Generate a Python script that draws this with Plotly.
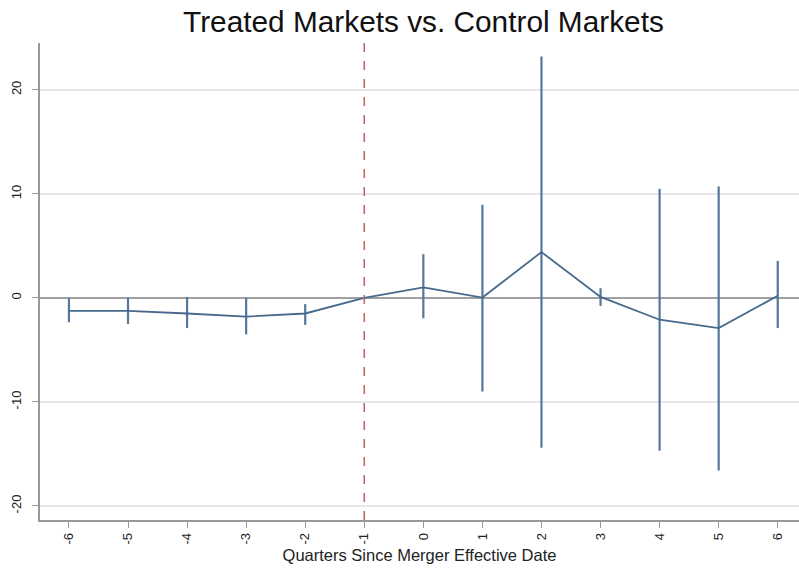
import plotly.graph_objects as go

quarters = [-6, -5, -4, -3, -2, -1, 0, 1, 2, 3, 4, 5, 6]
coef = [-1.25, -1.25, -1.5, -1.8, -1.5, 0.0, 1.0, 0.03, 4.4, 0.1, -2.1, -2.9, 0.2]
ci_upper = [0.0, 0.0, 0.1, 0.0, -0.6, 0.0, 4.2, 8.95, 23.2, 0.93, 10.5, 10.7, 3.56]
ci_lower = [-2.35, -2.5, -2.9, -3.5, -2.6, 0.0, -1.95, -9.0, -14.4, -0.77, -14.7, -16.6, -2.9]
x_ticks = quarters
y_ticks = [-20, -10, 0, 10, 20]
event_quarter = -1

err_plus = [u - c for u, c in zip(ci_upper, coef)]
err_minus = [c - l for c, l in zip(coef, ci_lower)]

line_color = "#46698c"
font_family = "Liberation Sans, Arial, Helvetica, sans-serif"

fig = go.Figure()
fig.add_trace(go.Scatter(
    x=quarters, y=coef, mode="lines",
    line=dict(color=line_color, width=1.8),
    error_y=dict(type="data", symmetric=False, array=err_plus, arrayminus=err_minus,
                 color="#54789b", thickness=2.2, width=0),
    showlegend=False, hoverinfo="skip",
))

fig.add_shape(type="line", x0=event_quarter, x1=event_quarter, xref="x",
              y0=0, y1=1, yref="paper",
              line=dict(color="#c0656a", width=1.6, dash="dash"), layer="above")

fig.update_layout(
    width=799, height=576,
    margin=dict(l=40, r=0, t=43, b=56, autoexpand=False),
    paper_bgcolor="white", plot_bgcolor="white",
    font=dict(family=font_family, color="#222222"),
    title=dict(text="Treated Markets vs. Control Markets", x=0.53, xanchor="center",
               y=0.962, yanchor="middle", font=dict(size=29.8, color="#111111")),
    xaxis=dict(range=[-6.49, 6.36], tickvals=x_ticks, ticktext=[str(v) for v in x_ticks],
               tickangle=-90, ticks="outside", ticklen=6, tickcolor="#999999",
               showgrid=False, zeroline=False, showline=True, linecolor="#999999", linewidth=1.5,
               tickfont=dict(size=13), automargin=False,
               title=dict(text="Quarters Since Merger Effective Date", font=dict(size=16.5), standoff=6)),
    yaxis=dict(range=[-21.35, 24.5], tickvals=y_ticks, ticktext=[str(v) for v in y_ticks],
               tickangle=-90, ticks="outside", ticklen=6, tickcolor="#999999",
               showgrid=True, gridcolor="#e6e6e6", gridwidth=1.5,
               zeroline=True, zerolinecolor="#a0a0a0", zerolinewidth=1.8,
               showline=True, linecolor="#999999", linewidth=1.5,
               tickfont=dict(size=13), automargin=False, ticklabelstandoff=6),
)

fig.write_html("out.html", config={"displayModeBar": False},
               post_script="document.body.style.margin='0';")
